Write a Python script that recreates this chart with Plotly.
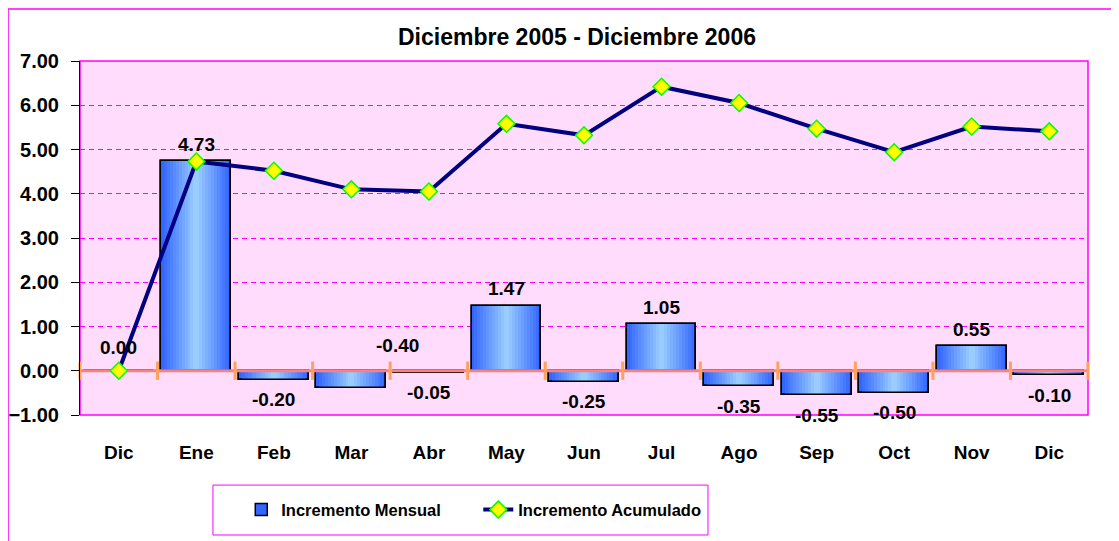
import plotly.graph_objects as go

# ---------------- data ----------------
months = ["Dic", "Ene", "Feb", "Mar", "Abr", "May", "Jun", "Jul", "Ago", "Sep", "Oct", "Nov", "Dic"]
mensual = [0.00, 4.73, -0.20, -0.40, -0.05, 1.47, -0.25, 1.05, -0.35, -0.55, -0.50, 0.55, -0.10]
acumulado = [0.00, 4.73, 4.52, 4.10, 4.05, 5.58, 5.32, 6.42, 6.05, 5.47, 4.94, 5.52, 5.41]
y_tick_vals = [-1, 0, 1, 2, 3, 4, 5, 6, 7]
title_text = "Diciembre 2005 - Diciembre 2006"
name_bar = "Incremento Mensual"
name_line = "Incremento Acumulado"

# ---------------- style ----------------
FONT = "Liberation Sans, Arial, sans-serif"
MAGENTA = "#FF00FF"
CORAL = "#FF7F7F"
NAVY = "#000080"
BG = "#FFDCFC"

x = list(range(len(months)))
n = len(months)

fig = go.Figure()

# gradient bars emulated with concentric overlaid bars
dark = (0x33, 0x66, 0xFF)
light = (0x99, 0xCC, 0xFF)
n_layers = 12
for k in range(n_layers):
    t = k / (n_layers - 1)
    col = "rgb(%d,%d,%d)" % tuple(round(d + (l - d) * t) for d, l in zip(dark, light))
    w = 0.9 * (1 - k / n_layers)
    fig.add_trace(go.Bar(
        x=x, y=mensual, width=w, name=name_bar,
        marker=dict(color=col, line=dict(color="black", width=1.5 if k == 0 else 0)),
        showlegend=(k == 0), hoverinfo="skip" if k else None,
    ))
# outline on top
fig.add_trace(go.Bar(
    x=x, y=mensual, width=0.9, showlegend=False, hoverinfo="skip",
    marker=dict(color="rgba(0,0,0,0)", line=dict(color="black", width=1.5)),
))

# zero axis line (coral) with crossing ticks at category boundaries
bounds = [i - 0.5 for i in range(n + 1)]
fig.add_trace(go.Scatter(
    x=[bounds[0], bounds[-1]], y=[0, 0], mode="lines",
    line=dict(color=CORAL, width=3), showlegend=False, hoverinfo="skip", cliponaxis=False,
))
fig.add_trace(go.Scatter(
    x=bounds, y=[0] * len(bounds), mode="markers",
    marker=dict(symbol="line-ns-open", size=13, line=dict(color=CORAL, width=3)),
    showlegend=False, hoverinfo="skip", cliponaxis=False,
))

# cumulative line
fig.add_trace(go.Scatter(
    x=x, y=acumulado, mode="lines+markers", name=name_line,
    line=dict(color=NAVY, width=4),
    marker=dict(symbol="diamond", size=13, color="#FFFF00", line=dict(color="#00FF00", width=1.5)),
    cliponaxis=False,
))

# data labels for monthly bars
label_font = dict(family=FONT, size=19, color="black", weight="bold")
annotations = []
for i, v in enumerate(mensual):
    if months[i] == "Mar" and i == 3:
        # Excel placed this label above the axis, between Mar and Abr
        annotations.append(dict(x=i, y=0, text="%.2f" % v, showarrow=False, yshift=25, xshift=46,
                                font=label_font))
        continue
    ys = 17 if v > 0 else (23 if v == 0 else -20)
    annotations.append(dict(x=i, y=v, text="%.2f" % v, showarrow=False, yshift=ys, font=label_font))

shapes = [
    # plot area border
    dict(type="rect", xref="paper", yref="paper", x0=0, x1=1, y0=0, y1=1,
         line=dict(color=MAGENTA, width=1.5), layer="below"),
    # outer chart border
    dict(type="rect", xref="paper", yref="paper", x0=-0.0714, x1=1.2, y0=-0.5, y1=1.147,
         line=dict(color=MAGENTA, width=1.5), layer="below"),
    # legend box
    dict(type="rect", xref="paper", yref="paper", x0=0.1319, x1=0.623, y0=-0.339, y1=-0.198,
         line=dict(color=MAGENTA, width=1), fillcolor="white", layer="below"),
]

# page body has an 8px margin: compensate so the plot lands where intended
fig.update_layout(
    width=1111, height=533,
    margin=dict(l=72, r=31, t=53, b=126, autoexpand=False),
    paper_bgcolor="white", plot_bgcolor=BG,
    barmode="overlay", bargap=0,
    title=dict(text=title_text, x=(577 - 8) / 1111, xanchor="center", y=(533 - 29) / 533, yanchor="middle",
               font=dict(family=FONT, size=23, color="black", weight="bold")),
    font=dict(family=FONT, color="black"),
    showlegend=True,
    legend=dict(orientation="h", x=0.16, xanchor="left", y=-0.268, yanchor="middle",
                bgcolor="rgba(0,0,0,0)", borderwidth=0, entrywidth=192, entrywidthmode="pixels",
                font=dict(family=FONT, size=16.5, color="black", weight="bold"),
                traceorder="normal"),
    xaxis=dict(range=[-0.5, n - 0.5], tickvals=x, ticktext=months, showgrid=False, automargin=False,
               zeroline=False, showline=False, ticks="outside", ticklen=20,
               tickcolor="rgba(0,0,0,0)",
               tickfont=dict(family=FONT, size=19, color="black", weight="bold")),
    yaxis=dict(range=[-1, 7], tickvals=y_tick_vals, tickformat=".2f", automargin=False,
               showgrid=True, gridcolor=MAGENTA, griddash="5px,4px", gridwidth=1,
               zeroline=False, showline=True, linecolor="black", linewidth=1,
               ticks="outside", ticklen=8, tickcolor="black", ticklabelstandoff=8,
               tickfont=dict(family=FONT, size=20, color="black", weight="bold")),
    annotations=annotations, shapes=shapes,
)

fig.write_html("out.html")
